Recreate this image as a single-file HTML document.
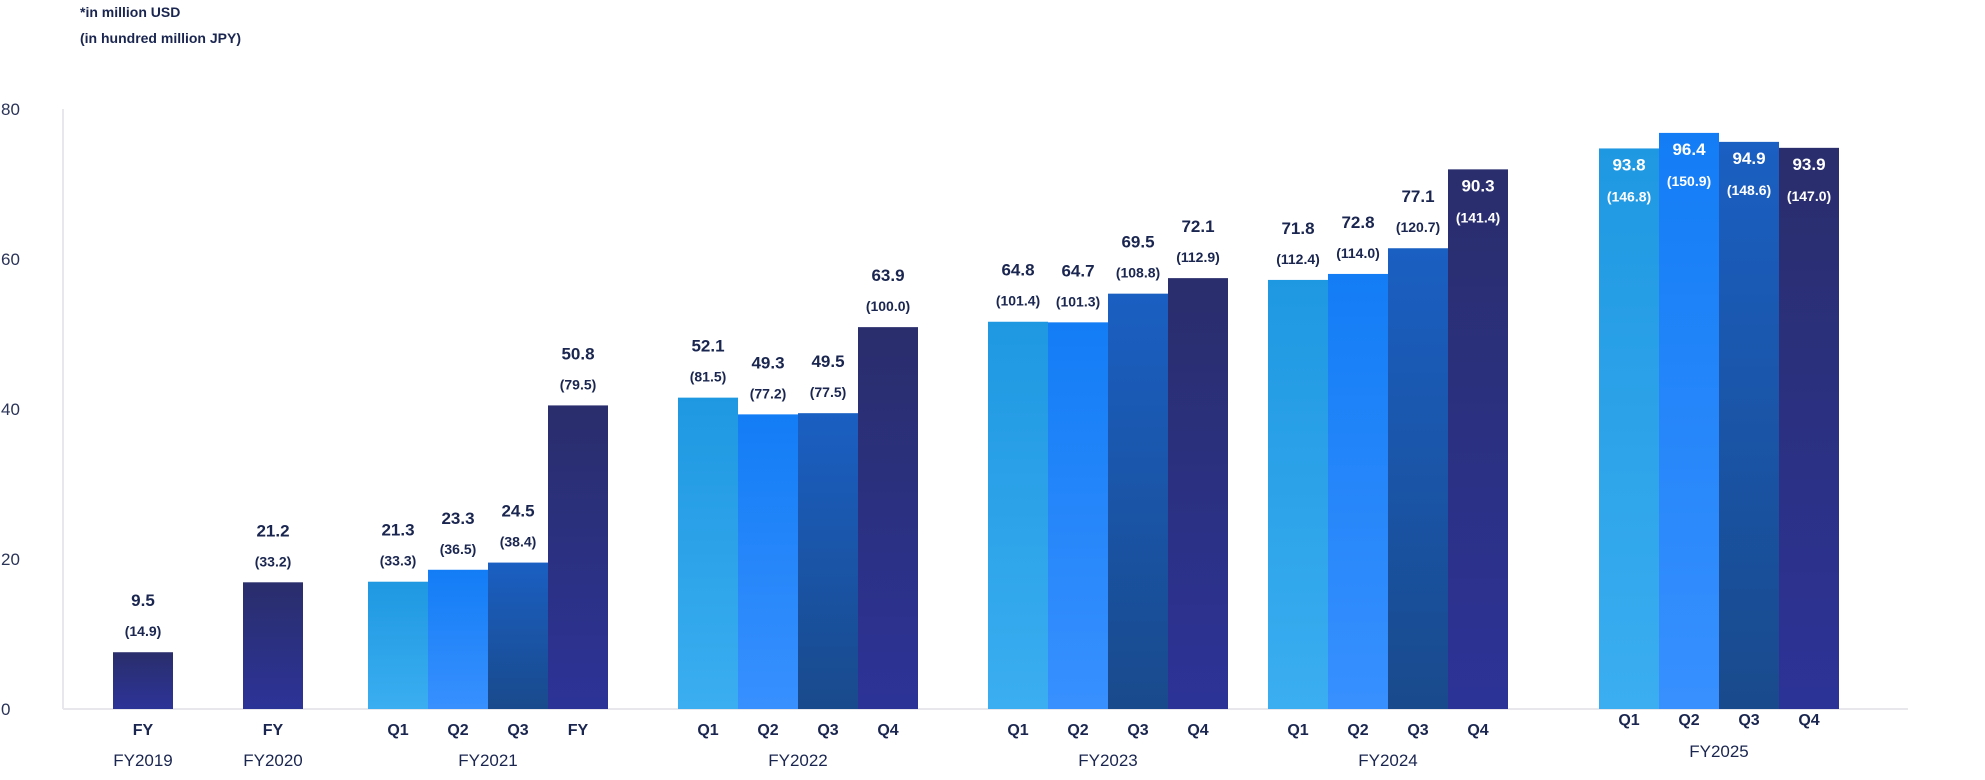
<!DOCTYPE html>
<html><head><meta charset="utf-8"><style>
html,body{margin:0;padding:0;background:#fff;}
svg{display:block;font-family:"Liberation Sans",sans-serif;}
</style></head><body>
<svg id="chart" width="1985" height="780" viewBox="0 0 1985 780" xmlns="http://www.w3.org/2000/svg">
<defs>
<linearGradient id="g1" x1="0" y1="0" x2="0" y2="1"><stop offset="0" stop-color="#1f98e2"/><stop offset="1" stop-color="#3aaef0"/></linearGradient>
<linearGradient id="g2" x1="0" y1="0" x2="0" y2="1"><stop offset="0" stop-color="#137df6"/><stop offset="1" stop-color="#3890fe"/></linearGradient>
<linearGradient id="g3" x1="0" y1="0" x2="0" y2="1"><stop offset="0" stop-color="#1a5fc2"/><stop offset="1" stop-color="#194a8c"/></linearGradient>
<linearGradient id="g4" x1="0" y1="0" x2="0" y2="1"><stop offset="0" stop-color="#2a2e6c"/><stop offset="1" stop-color="#2c3397"/></linearGradient>
</defs>
<text x="80" y="17" font-size="14" font-weight="bold" fill="#1a2650">*in million USD</text>
<text x="80" y="43" font-size="14" font-weight="bold" fill="#1a2650">(in hundred million JPY)</text>
<g id="axes"></g>
<g id="bars"></g>
<g id="labels"></g>
</svg>
<script>
const groups = ["FY2019","FY2020","FY2021","FY2022","FY2023","FY2024","FY2025"];
const barCats = ["FY","FY","Q1","Q2","Q3","FY","Q1","Q2","Q3","Q4","Q1","Q2","Q3","Q4","Q1","Q2","Q3","Q4","Q1","Q2","Q3","Q4"];
const barGroup = [0,1,2,2,2,2,3,3,3,3,4,4,4,4,5,5,5,5,6,6,6,6];
const usdValues = [9.5,21.2,21.3,23.3,24.5,50.8,52.1,49.3,49.5,63.9,64.8,64.7,69.5,72.1,71.8,72.8,77.1,90.3,93.8,96.4,94.9,93.9];
const jpyValues = ["14.9","33.2","33.3","36.5","38.4","79.5","81.5","77.2","77.5","100.0","101.4","101.3","108.8","112.9","112.4","114.0","120.7","141.4","146.8","150.9","148.6","147.0"];
const usdLabels = ["9.5","21.2","21.3","23.3","24.5","50.8","52.1","49.3","49.5","63.9","64.8","64.7","69.5","72.1","71.8","72.8","77.1","90.3","93.8","96.4","94.9","93.9"];
const yTicks = [0,20,40,60,80];
const barScale = 1.255;

const NS="http://www.w3.org/2000/svg";
const baseY=709, unitPx=7.5, barW=60;
function y(v){return baseY - v*unitPx;}
// x position of bar i
const groupStart=[113,243,368,678,988,1268,1599];
const groupGap=[0,0,0,0,0,0,0];
function xBar(i){
  const g=barGroup[i];
  let k=0; for(let j=0;j<i;j++) if(barGroup[j]===g) k++;
  return groupStart[g]+k*barW;
}
function mk(tag,attrs,parent){const e=document.createElementNS(NS,tag);for(const a in attrs)e.setAttribute(a,attrs[a]);parent.appendChild(e);return e;}
const axes=document.getElementById('axes'), bars=document.getElementById('bars'), labels=document.getElementById('labels');

let ax=mk('line',{x1:63,y1:y(80),x2:63,y2:baseY,stroke:'#e7e7ec','stroke-width':2},axes);


let bl=mk('line',{x1:63,y1:baseY,x2:1908,y2:baseY,stroke:'#e7e7ec','stroke-width':2},axes);


yTicks.forEach(t=>{
  const e=mk('text',{x:1,y:y(t)+6,'font-size':17,fill:'#2a3358'},axes);
  e.textContent=t;
  
  
});

const fills={Q1:'url(#g1)',Q2:'url(#g2)',Q3:'url(#g3)',Q4:'url(#g4)',FY:'url(#g4)'};
usdValues.forEach((v,i)=>{
  const x=xBar(i), top=y(v/barScale);
  const r=mk('rect',{x:x,y:top,width:barW,height:baseY-top,fill:fills[barCats[i]]},bars);
  
  
  const inside = barGroup[i]===6 || (barGroup[i]===5 && barCats[i]==='Q4');
  const col = inside ? '#ffffff' : '#1a2650';
  const vy = inside ? top+22 : top-46;
  const py = inside ? top+53 : top-16;
  const cx=x+barW/2;
  const t1=mk('text',{x:cx,y:vy,'text-anchor':'middle','font-size':17,'font-weight':'bold',fill:col},labels);
  t1.textContent=usdLabels[i];
  
  
  const t2=mk('text',{x:cx,y:py,'text-anchor':'middle','font-size':14,'font-weight':'bold',fill:col},labels);
  t2.textContent='('+jpyValues[i]+')';
  
  
  const qy = barGroup[i]===6 ? 725 : 735;
  const t3=mk('text',{x:cx,y:qy,'text-anchor':'middle','font-size':16,'font-weight':'bold',fill:'#1a2650'},labels);
  t3.textContent=barCats[i];
  
  
});
groups.forEach((g,gi)=>{
  const idx=[];usdValues.forEach((v,i)=>{if(barGroup[i]===gi)idx.push(i);});
  const x0=xBar(idx[0]), x1=xBar(idx[idx.length-1])+barW;
  const gy = gi===6 ? 757 : 766;
  const t=mk('text',{x:(x0+x1)/2,y:gy,'text-anchor':'middle','font-size':17,fill:'#1a2650'},labels);
  t.textContent=g;
  
  
});
</script>
</body></html>
